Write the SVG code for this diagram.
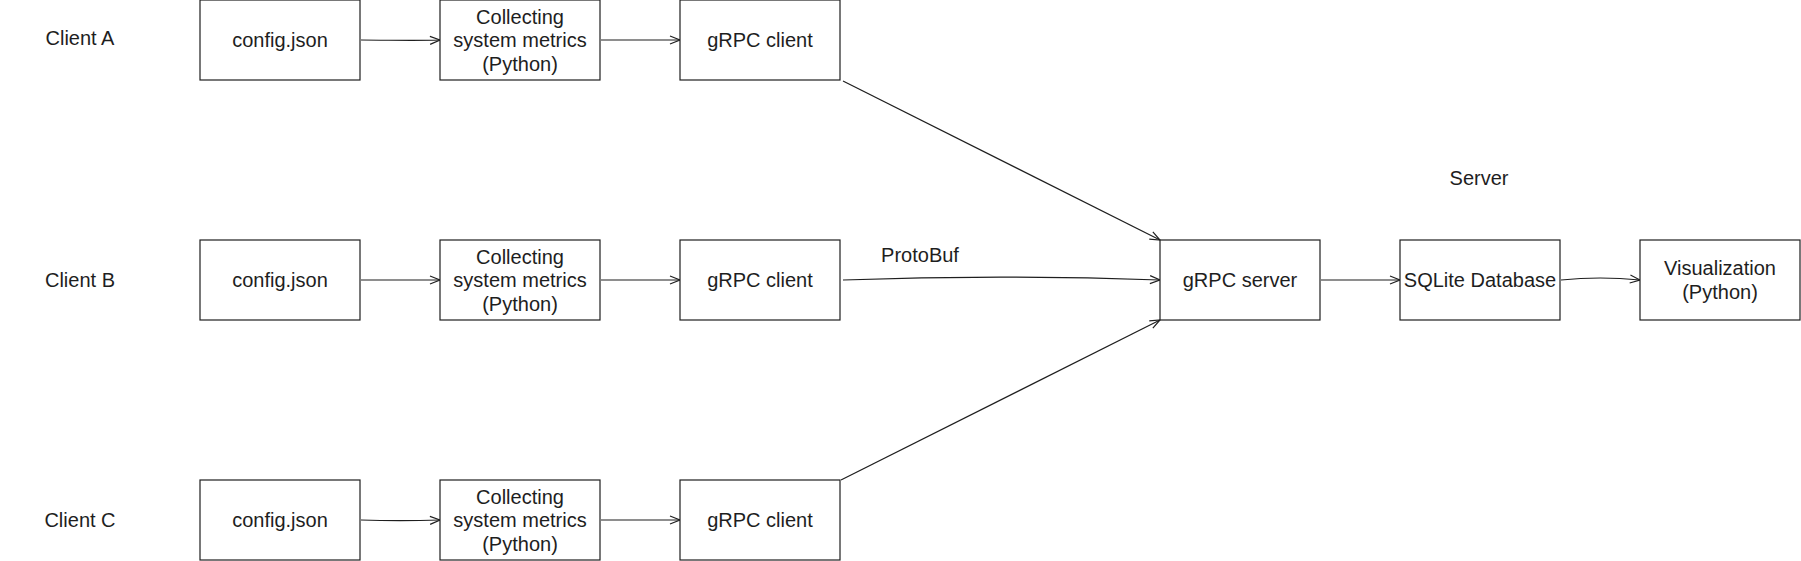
<svg xmlns="http://www.w3.org/2000/svg" width="1801" height="561" viewBox="0 0 1801 561">
<defs>
<style>
.box{fill:#ffffff;stroke:#1e1e1e;stroke-width:1.2}
.t{font-family:"Liberation Sans",Arial,sans-serif;font-size:20px;fill:#1e1e1e;text-anchor:middle;dominant-baseline:central}
.lbl{font-family:"Liberation Sans",Arial,sans-serif;font-size:20px;fill:#1e1e1e;text-anchor:middle;dominant-baseline:central}
.c{fill:none;stroke:#1e1e1e;stroke-width:1.2;marker-end:url(#ah)}
</style>
<marker id="ah" viewBox="0 0 12 12" refX="11" refY="6" markerWidth="12" markerHeight="12" markerUnits="userSpaceOnUse" orient="auto">
<polyline points="1,2 11,6 1,10" fill="none" stroke="#1e1e1e" stroke-width="1.2"/>
</marker>
</defs>
<rect width="1801" height="561" fill="#ffffff"/>

<g id="labels">
<text class="lbl" x="80" y="38">Client A</text>
<text class="lbl" x="80" y="280">Client B</text>
<text class="lbl" x="80" y="520">Client C</text>
<text class="lbl" x="1479" y="178">Server</text>
<text class="lbl" x="920" y="255">ProtoBuf</text>
</g>

<g id="connectors">
<path class="c" d="M361,40 C390,40 410,41 440,40"/>
<path class="c" d="M601,40 L680,40"/>
<path class="c" d="M361,280 L440,280"/>
<path class="c" d="M601,280 L680,280"/>
<path class="c" d="M361,520 C390,521 410,521 440,520"/>
<path class="c" d="M601,520 L680,520"/>
<path class="c" d="M843,81 L1160,240"/>
<path class="c" d="M843,280 C950,276 1050,276 1160,280"/>
<path class="c" d="M841,480 L1160,320"/>
<path class="c" d="M1321,280 L1400,280"/>
<path class="c" d="M1561,280 C1590,277 1610,277 1640,280"/>
</g>

<g id="configA"><rect class="box" x="200" y="0" width="160" height="80"/><text class="t" x="280" y="40">config.json</text></g>
<g id="collectA"><rect class="box" x="440" y="0" width="160" height="80"/><text class="t" x="520" y="17">Collecting</text><text class="t" x="520" y="40">system metrics</text><text class="t" x="520" y="64">(Python)</text></g>
<g id="clientA"><rect class="box" x="680" y="0" width="160" height="80"/><text class="t" x="760" y="40">gRPC client</text></g>

<g id="configB"><rect class="box" x="200" y="240" width="160" height="80"/><text class="t" x="280" y="280">config.json</text></g>
<g id="collectB"><rect class="box" x="440" y="240" width="160" height="80"/><text class="t" x="520" y="257">Collecting</text><text class="t" x="520" y="280">system metrics</text><text class="t" x="520" y="304">(Python)</text></g>
<g id="clientB"><rect class="box" x="680" y="240" width="160" height="80"/><text class="t" x="760" y="280">gRPC client</text></g>

<g id="configC"><rect class="box" x="200" y="480" width="160" height="80"/><text class="t" x="280" y="520">config.json</text></g>
<g id="collectC"><rect class="box" x="440" y="480" width="160" height="80"/><text class="t" x="520" y="497">Collecting</text><text class="t" x="520" y="520">system metrics</text><text class="t" x="520" y="544">(Python)</text></g>
<g id="clientC"><rect class="box" x="680" y="480" width="160" height="80"/><text class="t" x="760" y="520">gRPC client</text></g>

<g id="server"><rect class="box" x="1160" y="240" width="160" height="80"/><text class="t" x="1240" y="280">gRPC server</text></g>
<g id="sqlite"><rect class="box" x="1400" y="240" width="160" height="80"/><text class="t" x="1480" y="280">SQLite Database</text></g>
<g id="vis"><rect class="box" x="1640" y="240" width="160" height="80"/><text class="t" x="1720" y="268">Visualization</text><text class="t" x="1720" y="292">(Python)</text></g>
</svg>
